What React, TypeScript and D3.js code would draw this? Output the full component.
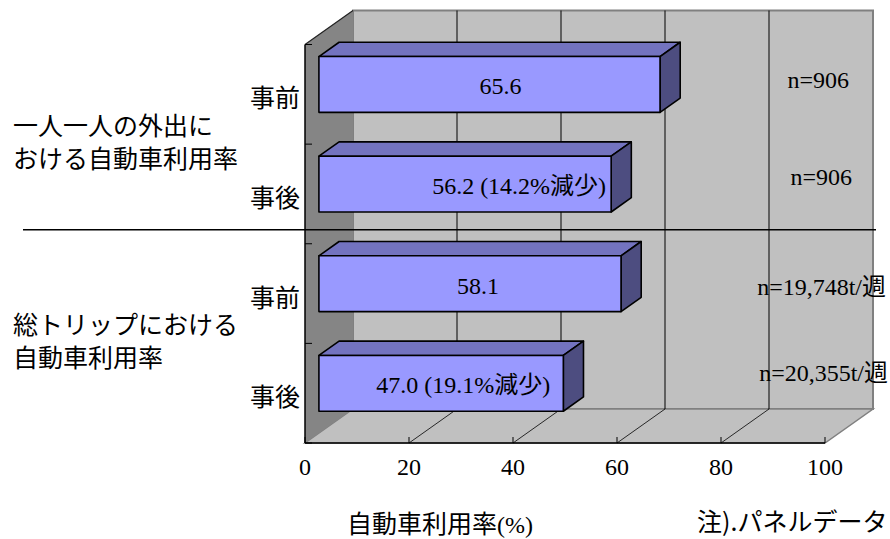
import React from "react";
import * as d3 from "d3";

// Car usage rate before/after, per person-outing and per total trips
const categories = ["事前", "事後", "事前", "事後"];
const values = [65.6, 56.2, 58.1, 47.0];
const labelSuffixes = ["", " (14.2%減少)", "", " (19.1%減少)"];
const groupTitles = [
  ["一人一人の外出に", "おける自動車利用率"],
  ["総トリップにおける", "自動車利用率"],
];
const sampleSizes = ["n=906", "n=906", "n=19,748t/週", "n=20,355t/週"];
const xTicks = [0, 20, 40, 60, 80, 100];
const axisTitle = "自動車利用率";
const axisUnit = "(%)";
const note = "注).パネルデータ";

const W = 890;
const H = 539;

// 3D frame: front plane and depth vector
const FRONT_LEFT = 305;
const FRONT_RIGHT = 825;
const FRONT_TOP = 44.5;
const FRONT_BOTTOM = 443;
const DEPTH_X = 48;
const DEPTH_Y = -34;
const BAR_NEAR = 0.29;
const BAR_FAR = 0.71;

const SERIF = "Liberation Serif, Tinos, Times New Roman, DejaVu Serif, Noto Sans CJK JP, serif";
const SANS = "Noto Sans CJK JP, Noto Sans, sans-serif";

export default function App() {
  const x = d3.scaleLinear().domain([0, 100]).range([FRONT_LEFT, FRONT_RIGHT]);
  const idx = d3.range(categories.length);
  const y = d3
    .scaleBand<number>()
    .domain(idx)
    .range([FRONT_TOP, FRONT_BOTTOM])
    .paddingInner(0.44)
    .paddingOuter(0.22);
  const step = y.step();
  const bw = y.bandwidth();
  const catCenter = (i: number) => (y(i) as number) + bw / 2;

  const nx = DEPTH_X * BAR_NEAR;
  const ny = DEPTH_Y * BAR_NEAR;
  const fx = DEPTH_X * BAR_FAR;
  const fy = DEPTH_Y * BAR_FAR;

  const pts = (p: [number, number][]) => p.map((q) => q.join(",")).join(" ");

  const backL = FRONT_LEFT + DEPTH_X;
  const backR = FRONT_RIGHT + DEPTH_X;
  const backT = FRONT_TOP + DEPTH_Y;
  const backB = FRONT_BOTTOM + DEPTH_Y;

  const labelNudge = [1, 44, -2, 12];
  const nPos: [number, number][] = [
    [849, 80],
    [852, 176.5],
    [886, 287],
    [888, 373],
  ];

  const serif = { fontFamily: SERIF };
  const sans = { fontFamily: SANS };

  return (
    <svg
      width={W}
      height={H}
      viewBox={`0 0 ${W} ${H}`}
      style={{ position: "absolute", left: 0, top: 0, background: "#fff" }}
    >
      {/* back wall */}
      <rect
        x={backL}
        y={backT}
        width={backR - backL}
        height={backB - backT}
        fill="#c0c0c0"
        stroke="#808080"
        strokeWidth={2}
      />
      {/* floor */}
      <polygon
        points={pts([
          [FRONT_LEFT, FRONT_BOTTOM],
          [FRONT_RIGHT, FRONT_BOTTOM],
          [backR, backB],
          [backL, backB],
        ])}
        fill="#c0c0c0"
        stroke="#808080"
        strokeWidth={1.5}
      />
      {/* left wall */}
      <polygon
        points={pts([
          [FRONT_LEFT, FRONT_TOP],
          [backL, backT],
          [backL, backB],
          [FRONT_LEFT, FRONT_BOTTOM],
        ])}
        fill="#858585"
      />
      <line x1={FRONT_LEFT} y1={FRONT_TOP} x2={backL} y2={backT} stroke="#222" strokeWidth={1.2} />

      {/* grid lines on back wall and floor */}
      {xTicks
        .filter((t) => t > 0 && t < 100)
        .map((t) => (
          <g key={`g${t}`}>
            <line
              x1={x(t) + DEPTH_X}
              x2={x(t) + DEPTH_X}
              y1={backT}
              y2={backB}
              stroke="#000"
              strokeWidth={1}
            />
            <line
              x1={x(t)}
              y1={FRONT_BOTTOM}
              x2={x(t) + DEPTH_X}
              y2={backB}
              stroke="#000"
              strokeWidth={0.8}
            />
          </g>
        ))}

      {/* front axis lines and ticks */}
      <line x1={FRONT_LEFT} x2={FRONT_RIGHT} y1={FRONT_BOTTOM} y2={FRONT_BOTTOM} stroke="#000" strokeWidth={1.5} />
      <line x1={FRONT_LEFT} x2={FRONT_LEFT} y1={FRONT_TOP} y2={FRONT_BOTTOM} stroke="#000" strokeWidth={1.5} />
      {xTicks.map((t) => (
        <line key={`xt${t}`} x1={x(t)} x2={x(t)} y1={FRONT_BOTTOM} y2={FRONT_BOTTOM - 6} stroke="#000" strokeWidth={1} />
      ))}
      {d3.range(categories.length + 1).map((k) => (
        <line
          key={`yt${k}`}
          x1={FRONT_LEFT}
          x2={FRONT_LEFT + 7}
          y1={FRONT_TOP + k * step}
          y2={FRONT_TOP + k * step}
          stroke="#000"
          strokeWidth={1}
        />
      ))}

      {/* group separator */}
      <line x1={23} x2={876} y1={FRONT_TOP + 2 * step - 14} y2={FRONT_TOP + 2 * step - 14} stroke="#000" strokeWidth={1.5} />

      {/* bars */}
      {values.map((v, i) => {
        const x0 = x(0) + nx;
        const x1 = x(v) + nx;
        const top = (y(i) as number) + ny;
        const bot = top + bw;
        const ddx = fx - nx;
        const ddy = fy - ny;
        return (
          <g key={`b${i}`} stroke="#000" strokeWidth={1.6} strokeLinejoin="round">
            <polygon
              points={pts([
                [x0, top],
                [x0 + ddx, top + ddy],
                [x1 + ddx, top + ddy],
                [x1, top],
              ])}
              fill="#7373bf"
            />
            <polygon
              points={pts([
                [x1, top],
                [x1 + ddx, top + ddy],
                [x1 + ddx, bot + ddy],
                [x1, bot],
              ])}
              fill="#4d4d80"
            />
            <rect x={x0} y={top} width={x1 - x0} height={bw} fill="#9999ff" />
          </g>
        );
      })}

      {/* value labels */}
      {values.map((v, i) => {
        const cx = x(v / 2) + DEPTH_X / 2 + labelNudge[i];
        const cy = (y(i) as number) + ny + bw / 2 + 2;
        return (
          <text key={`l${i}`} x={cx} y={cy + 8} textAnchor="middle" style={serif} fontSize={24} fill="#000">
            {v.toFixed(1) + labelSuffixes[i]}
          </text>
        );
      })}

      {/* sample size annotations */}
      {sampleSizes.map((s, i) => (
        <text key={`n${i}`} x={nPos[i][0]} y={nPos[i][1] + 8} textAnchor="end" style={serif} fontSize={24} fill="#000">
          {s}
        </text>
      ))}

      {/* category labels */}
      {categories.map((c, i) => (
        <text key={`c${i}`} x={300} y={catCenter(i) + 13} textAnchor="end" style={sans} fontSize={25} fill="#000">
          {c}
        </text>
      ))}

      {/* group titles */}
      {groupTitles.map((lines, g) => {
        const gc = (catCenter(2 * g) + catCenter(2 * g + 1)) / 2;
        return lines.map((line, j) => (
          <text key={`gt${g}${j}`} x={13} y={gc + (j === 0 ? -19 : 14) + 9.5} style={sans} fontSize={25} fill="#000">
            {line}
          </text>
        ));
      })}

      {/* x tick labels */}
      {xTicks.map((t) => (
        <text key={`xl${t}`} x={x(t)} y={475} textAnchor="middle" style={serif} fontSize={24} fill="#000">
          {t}
        </text>
      ))}

      {/* axis title and note */}
      <text x={347} y={533} style={sans} fontSize={25} fill="#000">
        {axisTitle}
        <tspan style={serif} fontSize={24}>
          {axisUnit}
        </tspan>
      </text>
      <text x={697} y={531} style={sans} fontSize={25} fill="#000">
        {note}
      </text>
    </svg>
  );
}
